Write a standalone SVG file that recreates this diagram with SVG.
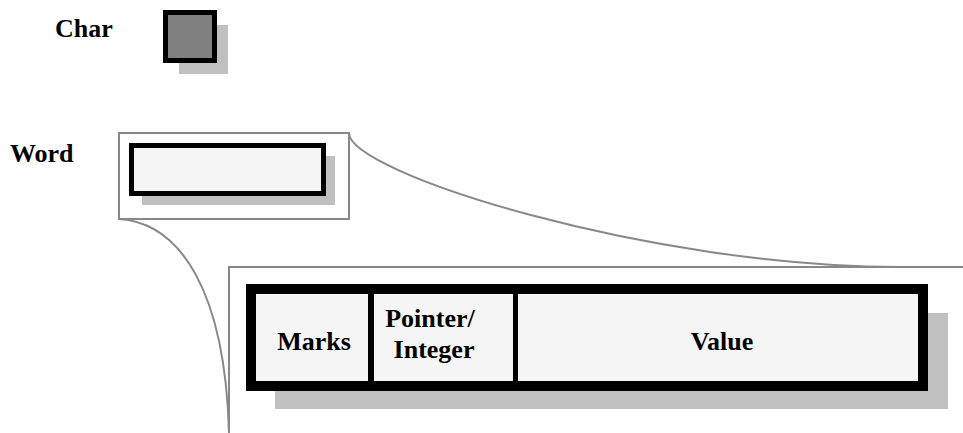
<svg xmlns="http://www.w3.org/2000/svg" width="963" height="433" viewBox="0 0 963 433">
<style>
.lbl{font-family:"Liberation Serif","Times New Roman",serif;font-weight:bold;font-size:26px;fill:#000}
.shadow{fill:#c0c0c0;stroke:none}
.frame{fill:none;stroke:#888;stroke-width:2}
.box{stroke:#000}
</style>
<rect width="963" height="433" fill="#fff"/>
<g id="char">
<text class="lbl" x="55" y="37">Char</text>
<rect class="shadow" x="179" y="25" width="49" height="49"/>
<rect class="box" x="165.5" y="12.5" width="49" height="48" fill="#808080" stroke-width="5"/>
</g>
<g id="word">
<text class="lbl" x="10" y="162">Word</text>
<rect x="119" y="133" width="230" height="86" fill="#fff" stroke="#888" stroke-width="2"/>
<rect class="shadow" x="142" y="156" width="193" height="49"/>
<rect class="box" x="131.5" y="145.5" width="192" height="48" fill="#f5f5f5" stroke-width="5"/>
</g>
<g id="connectors">
<path class="frame" d="M349,133 C349,173 650,267 900,267"/>
<path class="frame" d="M119,219 C180,223 225,290 229,433"/>
<path class="frame" d="M229,433 L229,267 L963,267"/>
</g>
<g id="wordlayout">
<rect class="shadow" x="275" y="313" width="673" height="96"/>
<rect class="box" x="251" y="289" width="672" height="97" fill="#f5f5f5" stroke-width="10"/>
<line x1="371" y1="289" x2="371" y2="386" stroke="#000" stroke-width="6"/>
<line x1="515.5" y1="289" x2="515.5" y2="386" stroke="#000" stroke-width="5"/>
<text class="lbl" x="314" y="350" text-anchor="middle">Marks</text>
<text class="lbl" x="430" y="327" text-anchor="middle">Pointer/</text>
<text class="lbl" x="434" y="358" text-anchor="middle">Integer</text>
<text class="lbl" x="722" y="350" text-anchor="middle">Value</text>
</g>
</svg>
